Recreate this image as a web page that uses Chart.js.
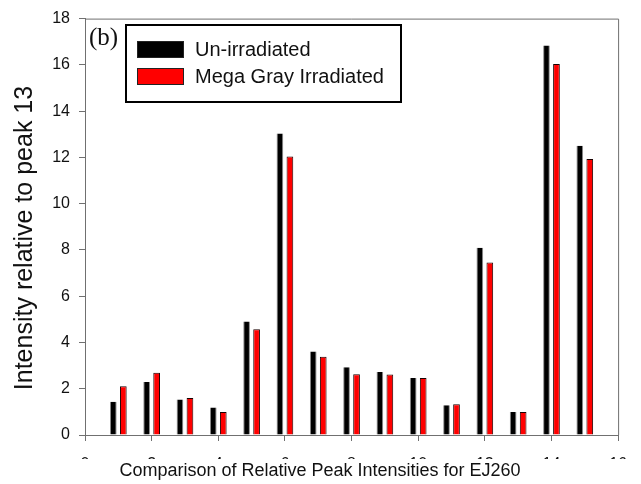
<!DOCTYPE html>
<html>
<head>
<meta charset="utf-8">
<script src="https://cdn.jsdelivr.net/npm/chart.js@4/dist/chart.umd.min.js"></script>
<style>
  html, body { margin: 0; padding: 0; background: #fff; }
  #wrap { width: 641px; height: 484px; }
</style>
</head>
<body>
<div id="wrap"><canvas id="chart"></canvas></div>
<script>
// peak numbers along x
const peaks = [1, 2, 3, 4, 5, 6, 7, 8, 9, 10, 11, 12, 13, 14, 15];
const unIrradiated = [1.44, 2.29, 1.53, 1.19, 4.91, 13.03, 3.61, 2.93, 2.72, 2.46, 1.29, 8.09, 0.99, 16.84, 12.5];
const megaGray = [2.11, 2.69, 1.6, 0.99, 4.57, 12.04, 3.38, 2.63, 2.62, 2.46, 1.33, 7.46, 0.99, 16.04, 11.93];
const seriesNames = ['Un-irradiated', 'Mega Gray Irradiated'];
const xTicks = [0, 2, 4, 6, 8, 10, 12, 14, 16];
const yTicks = [0, 2, 4, 6, 8, 10, 12, 14, 16, 18];
const xTitle = 'Comparison of Relative Peak Intensities for EJ260';
const yTitle = 'Intensity relative to peak 13';
const panelTag = '(b)';

const axisColor = '#707070';
const sans = 'Arial, "Liberation Sans", sans-serif';

const toPoints = vals => vals.map((v, i) => ({ x: peaks[i], y: v }));

// frame, legend box, panel tag and axis titles
const decor = {
  id: 'decor',
  beforeDatasetsDraw(chart) {
    const { ctx, chartArea: a } = chart;
    ctx.save();
    ctx.strokeStyle = axisColor;
    ctx.lineWidth = 1;
    ctx.beginPath();
    ctx.moveTo(a.left, a.top + 0.5);
    ctx.lineTo(a.right + 0.5, a.top + 0.5);
    ctx.lineTo(a.right + 0.5, a.bottom);
    ctx.stroke();
    ctx.restore();
  },
  afterDraw(chart) {
    const { ctx } = chart;
    ctx.save();
    // x title sits over the lower part of the x tick labels
    ctx.fillStyle = '#fff';
    ctx.fillRect(0, 459, chart.width, chart.height - 459);
    ctx.fillStyle = '#111';
    ctx.font = '18px ' + sans;
    ctx.textAlign = 'center';
    ctx.textBaseline = 'alphabetic';
    ctx.fillText(xTitle, 320, 476);

    // y title
    ctx.save();
    ctx.translate(32, 238);
    ctx.rotate(-Math.PI / 2);
    ctx.font = '25px ' + sans;
    ctx.fillText(yTitle, 0, 0);
    ctx.restore();

    // legend
    ctx.fillStyle = '#fff';
    ctx.fillRect(126, 24, 275, 78);
    ctx.strokeStyle = '#000';
    ctx.lineWidth = 2;
    ctx.strokeRect(126, 25, 275, 77);
    const ds = chart.data.datasets;
    ctx.font = '20px ' + sans;
    ctx.textAlign = 'left';
    ctx.textBaseline = 'middle';
    ds.forEach((d, i) => {
      const y = 41 + i * 27;
      ctx.fillStyle = d.backgroundColor;
      ctx.fillRect(137, y, 47, 17);
      ctx.lineWidth = 1;
      ctx.strokeStyle = '#222';
      ctx.strokeRect(137.5, y + 0.5, 46, 16);
      ctx.fillStyle = '#111';
      ctx.fillText(d.label, 195, y + 9);
    });

    // panel tag
    ctx.font = '25px "Liberation Serif", "Times New Roman", serif';
    ctx.fillStyle = '#111';
    ctx.textBaseline = 'alphabetic';
    ctx.fillText(panelTag, 89, 45);
    ctx.restore();
  }
};

new Chart(document.getElementById('chart'), {
  type: 'bar',
  data: {
    datasets: [
      {
        label: seriesNames[0],
        data: toPoints(unIrradiated),
        backgroundColor: '#000000',
        borderColor: '#8a8a8a',
        borderWidth: { left: 1, right: 1, top: 0, bottom: 0 }
      },
      {
        label: seriesNames[1],
        data: toPoints(megaGray),
        backgroundColor: '#ff0000',
        borderColor: '#1a0000',
        borderWidth: 1
      }
    ]
  },
  options: {
    responsive: true,
    maintainAspectRatio: false,
    animation: false,
    layout: { padding: { top: 11, right: 20, left: 0, bottom: 0 } },
    datasets: {
      bar: { categoryPercentage: 0.6, barPercentage: 0.67 }
    },
    plugins: {
      legend: { display: false },
      tooltip: { enabled: false }
    },
    scales: {
      x: {
        type: 'linear',
        min: 0,
        max: 16,
        offset: false,
        afterBuildTicks: s => { s.ticks = xTicks.map(v => ({ value: v })); },
        afterFit: s => { s.height = 49; },
        grid: {
          display: true,
          offset: false,
          drawOnChartArea: false,
          drawTicks: true,
          tickLength: 6,
          color: axisColor
        },
        border: { color: axisColor, width: 1 },
        ticks: {
          color: '#111',
          padding: 14,
          maxRotation: 0,
          autoSkip: false,
          font: { family: sans, size: 16 }
        },
        title: { display: false }
      },
      y: {
        min: 0,
        max: 18,
        afterBuildTicks: s => { s.ticks = yTicks.map(v => ({ value: v })); },
        afterFit: s => { s.width = 85; },
        grid: {
          display: true,
          drawOnChartArea: false,
          drawTicks: true,
          tickLength: 6,
          color: axisColor
        },
        border: { color: axisColor, width: 1 },
        ticks: {
          color: '#111',
          padding: 9,
          font: { family: sans, size: 16 }
        },
        title: { display: false }
      }
    }
  },
  plugins: [decor]
});
</script>
</body>
</html>
